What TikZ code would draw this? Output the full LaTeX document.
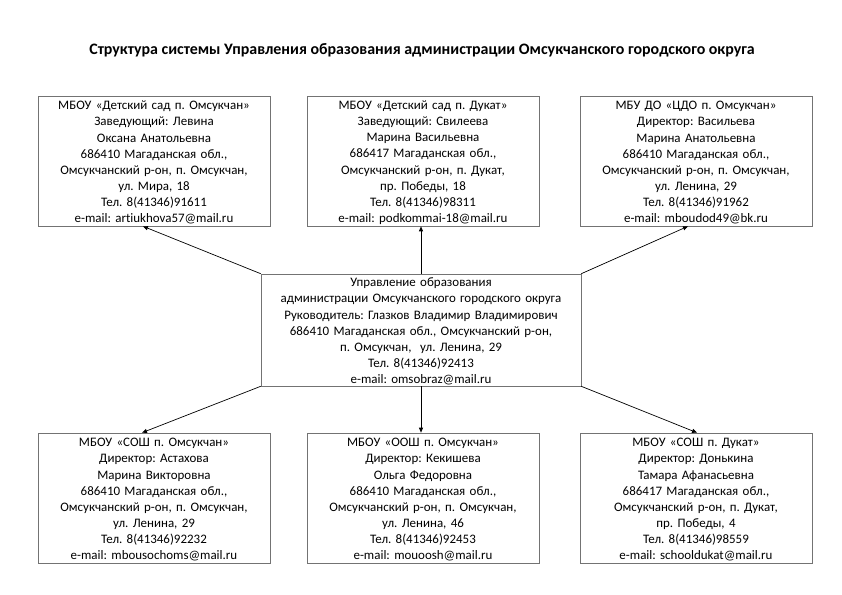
\documentclass[tikz,border=0pt]{standalone}
\usepackage{fontspec}
\setmainfont[Ligatures=NoCommon]{Carlito}
\usetikzlibrary{arrows.meta}
\frenchspacing

\begin{document}
\begin{tikzpicture}[x=1bp,y=-1bp,
  caja/.style={draw=black!55, line width=0.6bp, align=center,
    text width=226bp, minimum width=232bp, minimum height=130bp,
    inner sep=0pt, font=\fontsize{13}{16.2}\selectfont,
    execute at begin node={\rule{0pt}{12bp}}},
  flecha/.style={-{Triangle[length=5bp,width=4bp]}, line width=0.7bp}]

  \useasboundingbox (0,0) rectangle (842,595);

  % Titulo
  \node[font=\bfseries\fontsize{16}{18}\selectfont] (titulo) at (422,50)
    {Структура системы Управления образования администрации Омсукчанского городского округа};

  % Centro
  \node[caja, text width=316bp, minimum width=320bp, minimum height=112bp] (upr) at (421,330)
    {Управление образования\\
     администрации Омсукчанского городского округа\\
     Руководитель: Глазков Владимир Владимирович\\
     686410 Магаданская обл., Омсукчанский р-он,\\
     п. Омсукчан,\ \ ул. Ленина, 29\\
     Тел. 8(41346)92413\\
     e-mail: omsobraz@mail.ru};

  % Fila superior
  \node[caja] (dsom) at (154,161)
    {МБОУ «Детский сад п. Омсукчан»\\
     Заведующий: Левина\\
     Оксана Анатольевна\\
     686410 Магаданская обл.,\\
     Омсукчанский р-он, п. Омсукчан,\\
     ул. Мира, 18\\
     Тел. 8(41346)91611\\
     e-mail: artiukhova57@mail.ru};
  \node[caja] (dduk) at (423,161)
    {МБОУ «Детский сад п. Дукат»\\
     Заведующий: Свилеева\\
     Марина Васильевна\\
     686417 Магаданская обл.,\\
     Омсукчанский р-он, п. Дукат,\\
     пр. Победы, 18\\
     Тел. 8(41346)98311\\
     e-mail: podkommai-18@mail.ru};
  \node[caja] (cdo) at (696,161)
    {МБУ ДО «ЦДО п. Омсукчан»\\
     Директор: Васильева\\
     Марина Анатольевна\\
     686410 Магаданская обл.,\\
     Омсукчанский р-он, п. Омсукчан,\\
     ул. Ленина, 29\\
     Тел. 8(41346)91962\\
     e-mail: mboudod49@bk.ru};

  % Fila inferior
  \node[caja] (soms) at (154,498)
    {МБОУ «СОШ п. Омсукчан»\\
     Директор: Астахова\\
     Марина Викторовна\\
     686410 Магаданская обл.,\\
     Омсукчанский р-он, п. Омсукчан,\\
     ул. Ленина, 29\\
     Тел. 8(41346)92232\\
     e-mail: mbousochoms@mail.ru};
  \node[caja] (oosh) at (423,498)
    {МБОУ «ООШ п. Омсукчан»\\
     Директор: Кекишева\\
     Ольга Федоровна\\
     686410 Магаданская обл.,\\
     Омсукчанский р-он, п. Омсукчан,\\
     ул. Ленина, 46\\
     Тел. 8(41346)92453\\
     e-mail: mouoosh@mail.ru};
  \node[caja] (sduk) at (696,498)
    {МБОУ «СОШ п. Дукат»\\
     Директор: Донькина\\
     Тамара Афанасьевна\\
     686417 Магаданская обл.,\\
     Омсукчанский р-он, п. Дукат,\\
     пр. Победы, 4\\
     Тел. 8(41346)98559\\
     e-mail: schooldukat@mail.ru};

  % Flechas
  \draw[flecha] (upr.north west) -- ([xshift=-11bp]dsom.south);
  \draw[flecha] (upr.north) -- (upr.north |- dduk.south);
  \draw[flecha] (upr.north east) -- ([xshift=-8bp]cdo.south);
  \draw[flecha] (upr.south west) -- ([xshift=-12bp]soms.north);
  \draw[flecha] (upr.south) -- (upr.south |- oosh.north);
  \draw[flecha] (upr.south east) -- ([xshift=1bp]sduk.north);

\end{tikzpicture}
\end{document}
